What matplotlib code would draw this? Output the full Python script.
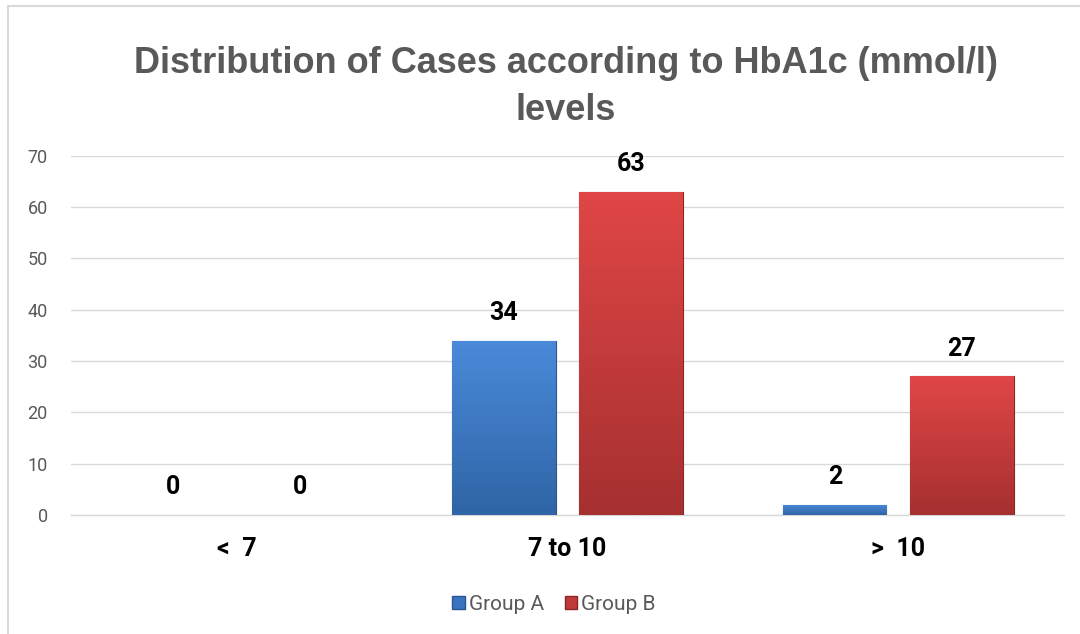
import matplotlib
matplotlib.use("Agg")
import matplotlib.pyplot as plt
import numpy as np
from matplotlib.lines import Line2D
from matplotlib.patches import Patch

categories = ["<  7", "7 to 10", ">  10"]
group_a = [0, 34, 2]
group_b = [0, 63, 27]
series_names = ["Group A", "Group B"]
yticks = [0, 10, 20, 30, 40, 50, 60, 70]

narrow = ["Roboto", "DejaVu Sans"]
plt.rcParams['font.family'] = narrow

fig = plt.figure(figsize=(10.8, 6.34), dpi=100)
ax = fig.add_axes([0.066, 0.188, 0.919, 0.566])

x = np.arange(len(categories))
w = 0.312
off = 0.192

def grad_bar(xc, h, top, bot, edge):
    bars = ax.bar(xc, h, w, color=bot, edgecolor=edge,
                  linewidth=0.8 if h > 0 else 0, zorder=3)
    for b in bars:
        if h <= 0:
            continue
        grad = np.linspace(0, 1, 256).reshape(-1, 1)
        c1 = np.array(matplotlib.colors.to_rgb(top))
        c2 = np.array(matplotlib.colors.to_rgb(bot))
        img = c2[None, None, :] * (1 - grad[:, :, None]) + c1[None, None, :] * grad[:, :, None]
        im = ax.imshow(img, extent=[xc - w / 2, xc + w / 2, 0, h], origin='lower',
                       aspect='auto', zorder=3.5)
        im.set_clip_path(b)
    return bars

for i in range(len(categories)):
    grad_bar(x[i] - off, group_a[i], "#4a8ad9", "#2f65a6", "#2a5590")
    grad_bar(x[i] + off, group_b[i], "#e04646", "#a63030", "#8a2626")
    ax.text(x[i] - off, group_a[i] + 3, str(group_a[i]), ha='center', va='bottom',
            fontsize=18, fontweight='bold', color='black', zorder=5)
    ax.text(x[i] + off, group_b[i] + 3, str(group_b[i]), ha='center', va='bottom',
            fontsize=18, fontweight='bold', color='black', zorder=5)

ax.set_xlim(-0.5, len(categories) - 0.5)
ax.set_ylim(0, 70)
ax.set_yticks(yticks)
ax.yaxis.grid(True, color="#d9d9d9", linewidth=1.0, zorder=0)
ax.set_axisbelow(True)
ax.tick_params(axis='y', length=0, labelsize=13, labelcolor="#595959", pad=17)
ax.set_xticks(x)
ax.set_xticklabels(categories, fontsize=18, fontweight='bold', color='black')
ax.tick_params(axis='x', length=0, pad=16)
for s in ['top', 'right', 'left']:
    ax.spines[s].set_visible(False)
ax.spines['bottom'].set_color("#d9d9d9")
ax.spines['bottom'].set_linewidth(1.0)
ax.set_xlim(-0.5, len(categories) - 0.5)

fig.text(0.524, 0.885, "Distribution of Cases according to HbA1c (mmol/l)", ha='center',
         va='baseline', fontsize=26, fontweight='bold', color="#595959",
         family=["Liberation Sans", "DejaVu Sans"])
fig.text(0.524, 0.811, "levels", ha='center', va='baseline', fontsize=26, fontweight='bold',
         color="#595959", family=["Liberation Sans", "DejaVu Sans"])

handles = [Patch(facecolor="#3a74c0", edgecolor="#2a5590"),
           Patch(facecolor="#c03a3a", edgecolor="#8a2626")]
leg = fig.legend(handles, series_names, loc='center', bbox_to_anchor=(0.513, 0.047),
                 ncol=2, frameon=False, fontsize=15, handlelength=0.6, handleheight=0.6,
                 handletextpad=0.2, columnspacing=1.0, labelcolor="#595959")

fig.add_artist(Line2D([0.0075, 0.0075], [0, 0.99], transform=fig.transFigure,
                      color="#d9d9d9", linewidth=1.5))
fig.add_artist(Line2D([0.0075, 1.0], [0.99, 0.99], transform=fig.transFigure,
                      color="#d9d9d9", linewidth=1.5))

fig.savefig("out.png", dpi=100)
